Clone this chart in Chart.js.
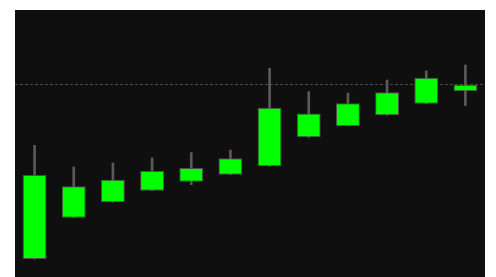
<!DOCTYPE html>
<html>
<head>
<meta charset="utf-8">
<script src="https://cdn.jsdelivr.net/npm/chart.js@4"></script>
<style>
  html, body { margin: 0; padding: 0; background: #ffffff; }
  #wrap { width: 496px; height: 277px; position: relative; }
</style>
</head>
<body>
<div id="wrap"><canvas id="candleChart"></canvas></div>
<script>
const labels = ['1', '2', '3', '4', '5', '6', '7', '8', '9', '10', '11', '12'];
const opens  = [6.7, 22.2, 28.0, 32.3, 35.7, 38.3, 41.5, 52.3, 56.6, 60.6, 64.9, 69.6];
const closes = [38.2, 34.0, 36.4, 39.7, 40.8, 44.5, 63.4, 61.2, 65.1, 69.2, 74.6, 72.0];
const highs  = [49.3, 41.2, 42.7, 44.6, 46.6, 47.5, 78.2, 69.4, 68.9, 73.8, 77.2, 79.4];
const lows   = [6.7, 22.2, 28.0, 32.3, 34.6, 38.3, 41.5, 52.3, 56.6, 60.6, 64.9, 64.2];
const lastPrice = 72.1;

const backgroundPlugin = {
    id: 'darkArea',
    beforeDraw(chart) {
        const { ctx, chartArea } = chart;
        ctx.save();
        ctx.fillStyle = '#0f0f0f';
        ctx.fillRect(chartArea.left, chartArea.top, chartArea.right - chartArea.left, chartArea.bottom - chartArea.top);
        ctx.restore();
    },
    beforeDatasetsDraw(chart) {
        const { ctx, chartArea, scales } = chart;
        const y = Math.round(scales.y.getPixelForValue(lastPrice)) + 0.5;
        ctx.save();
        ctx.strokeStyle = '#4a4a4a';
        ctx.lineWidth = 1;
        ctx.setLineDash([3, 2]);
        ctx.beginPath();
        ctx.moveTo(chartArea.left, y);
        ctx.lineTo(chartArea.right, y);
        ctx.stroke();
        ctx.restore();
    }
};

const chart = document.getElementById('candleChart');
new Chart(chart, {
    type: 'bar',
    data: {
        labels: labels,
        datasets: [{
            label: 'Body',
            data: opens.map((o, i) => [o, closes[i]]),
            backgroundColor: '#00ff00',
            borderColor: '#4d4d4d',
            borderWidth: 1,
            borderSkipped: false,
            grouped: false,
            categoryPercentage: 1,
            barPercentage: 0.61
        }, {
            label: 'Wick',
            data: lows.map((l, i) => [l, highs[i]]),
            backgroundColor: '#5a5a5a',
            borderWidth: 0,
            grouped: false,
            barThickness: 2
        }]
    },
    options: {
        responsive: true,
        maintainAspectRatio: false,
        animation: false,
        layout: {
            padding: { left: 15, right: 11, top: 10, bottom: 0 }
        },
        scales: {
            x: { display: false, offset: true },
            y: { display: false, min: 0, max: 100 }
        },
        plugins: {
            legend: { display: false },
            tooltip: { enabled: false }
        }
    },
    plugins: [backgroundPlugin]
});
</script>
</body>
</html>
